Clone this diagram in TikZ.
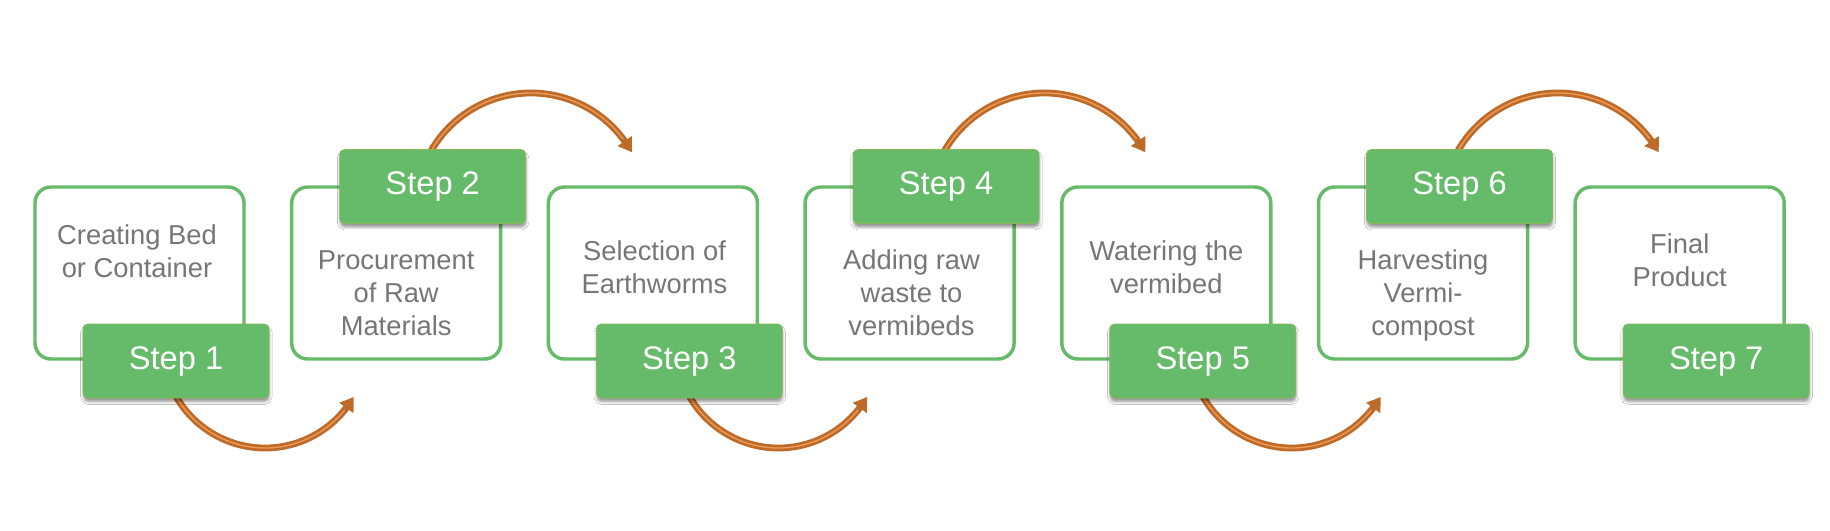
\documentclass[tikz,border=0pt]{standalone}
\usepackage{fontspec}
\setmainfont{Liberation Sans}
\usetikzlibrary{arrows.meta,bending,shadows.blur,calc}
\definecolor{grn}{RGB}{102,187,106}
\definecolor{grnedge}{RGB}{140,182,86}
\definecolor{txtgray}{RGB}{118,118,118}
\definecolor{arrdark}{RGB}{190,106,40}
\definecolor{arrlight}{RGB}{238,156,88}
\begin{document}
\begin{tikzpicture}[x=0.75pt,y=0.75pt,
  framebox/.style={draw=grn,line width=2.6pt,rounded corners=12pt,minimum width=156.75pt,minimum height=129pt,inner sep=0pt},
  steplabel/.style={fill=grn,draw=grnedge,line width=0.5pt,rounded corners=3.5pt,minimum width=139.5pt,minimum height=55.5pt,inner sep=0pt,text=white,font=\fontsize{24.5}{29}\selectfont,
    blur shadow={shadow xshift=0.3pt,shadow yshift=-2.8pt,shadow blur radius=2pt,shadow opacity=40}},
  bodytext/.style={text=txtgray,inner sep=0pt,anchor=base,font=\fontsize{20.5}{24.75}\selectfont},
  curvearrow/.style={draw=arrdark,line width=5.1pt,-{Triangle[length=10pt,width=12.5pt,bend]}},
  arrowstripe/.style={draw=arrlight,line width=1pt}]
\useasboundingbox (0,0) rectangle (1830,-531);
\fill[white] (0,0) rectangle (1830,-531);
% outline boxes
\foreach \k in {1,...,7}{
  \pgfmathsetmacro\bx{139.5+256.7*(\k-1)}
  \node[framebox] (b\k) at (\bx,-273) {};
}
% body texts
\node[bodytext] (t1) at (137,-244) {\begin{tabular}[t]{@{}c@{}}Creating Bed\\or Container\end{tabular}};
\node[bodytext] (t2) at (396.2,-269) {\begin{tabular}[t]{@{}c@{}}Procurement\\of Raw\\Materials\end{tabular}};
\node[bodytext] (t3) at (654.5,-260) {\begin{tabular}[t]{@{}c@{}}Selection of\\Earthworms\end{tabular}};
\node[bodytext] (t4) at (911.5,-269) {\begin{tabular}[t]{@{}c@{}}Adding raw\\waste to\\vermibeds\end{tabular}};
\node[bodytext] (t5) at (1166.3,-260) {\begin{tabular}[t]{@{}c@{}}Watering the\\vermibed\end{tabular}};
\node[bodytext] (t6) at (1423,-269) {\begin{tabular}[t]{@{}c@{}}Harvesting\\Vermi-\\compost\end{tabular}};
\node[bodytext] (t7) at (1679.7,-253) {\begin{tabular}[t]{@{}c@{}}Final\\Product\end{tabular}};
% arc centres
\coordinate (c1) at (265,-345.6);
\coordinate (c3) at (778.4,-345.6);
\coordinate (c5) at (1291.8,-345.6);
\coordinate (c2) at (531,-208.2);
\coordinate (c4) at (1044.4,-208.2);
\coordinate (c6) at (1557.8,-208.2);
% bottom arrows
\foreach \k in {1,3,5}{
  \draw[curvearrow] ([shift={(200:102.4)}]c\k) arc[start angle=200,end angle=330,radius=102.4];
  \draw[arrowstripe] ([shift={(200:102.4)}]c\k) arc[start angle=200,end angle=321,radius=102.4];
}
% top arrows
\foreach \k in {2,4,6}{
  \draw[curvearrow] ([shift={(160:115.2)}]c\k) arc[start angle=160,end angle=29,radius=115.2];
  \draw[arrowstripe] ([shift={(160:115.2)}]c\k) arc[start angle=160,end angle=37,radius=115.2];
}
% step labels
\foreach \k/\ly in {1/-361,2/-186.5,3/-361,4/-186.5,5/-361,6/-186.5,7/-361}{
  \pgfmathsetmacro\lx{176+256.7*(\k-1)}
  \node[steplabel] (s\k) at (\lx,\ly) {Step \k};
}
\end{tikzpicture}
\end{document}
